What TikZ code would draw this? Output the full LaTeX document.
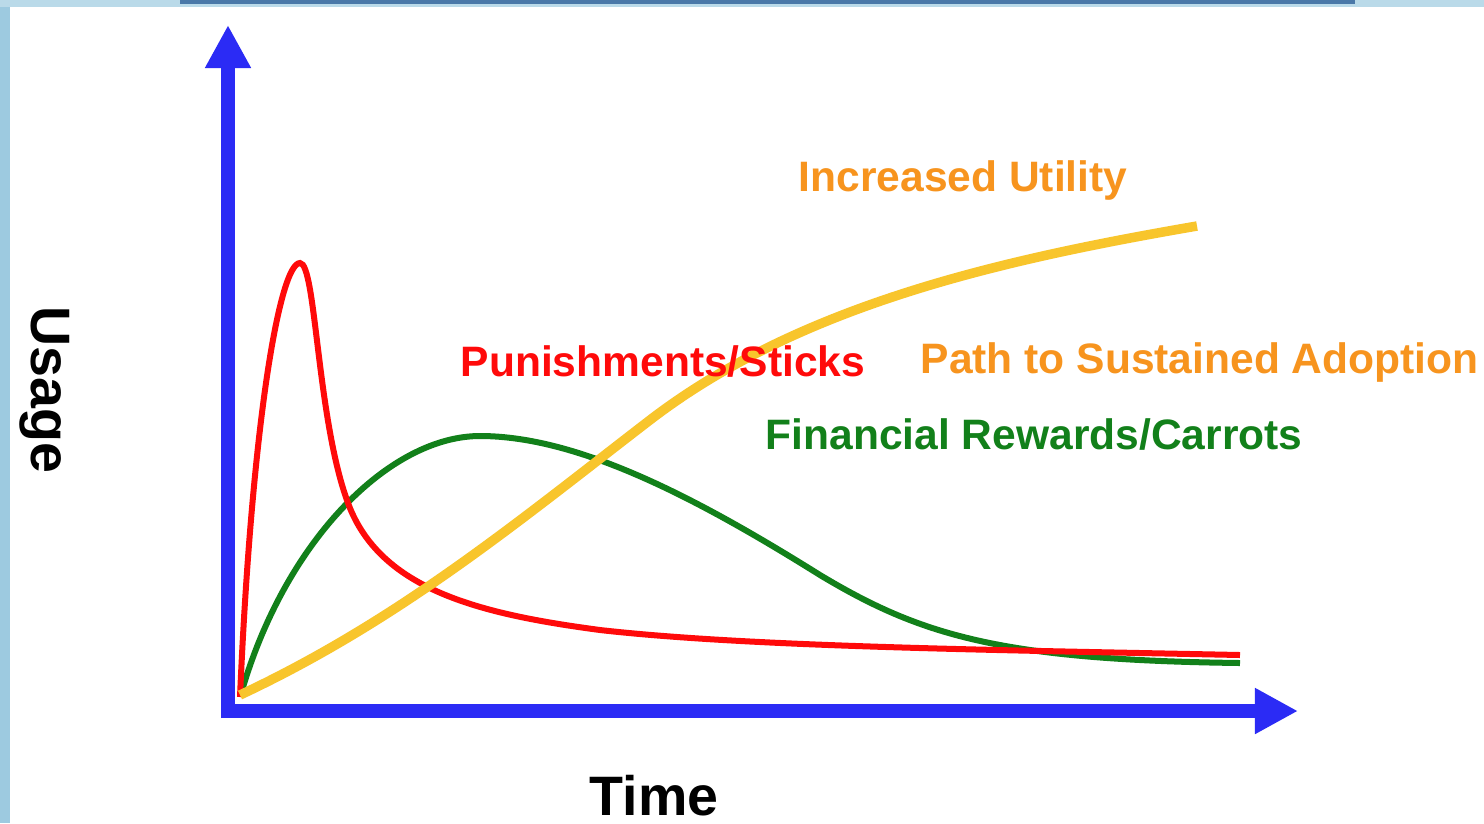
\documentclass[tikz,border=0pt]{standalone}
\usepackage{fontspec}
\setmainfont{Liberation Sans}
\usetikzlibrary{arrows.meta}
\definecolor{axisblue}{HTML}{2B2BF5}
\definecolor{sticksred}{HTML}{FF0A0A}
\definecolor{carrotgreen}{HTML}{12801A}
\definecolor{utilyellow}{HTML}{F8C52C}
\definecolor{labelorange}{HTML}{F7941E}
\definecolor{framelight}{HTML}{9DCAE0}
\definecolor{framedark}{HTML}{4A78A8}
\tikzset{
    axis/.style={line width=0.14cm, color=axisblue},
    axistip/.style={-{Triangle[length=0.43cm, width=0.43cm]}},
    curvelbl/.style={font=\fontsize{12.1}{14}\selectfont\bfseries, inner sep=0pt, anchor=west},
    axislbl/.style={font=\fontsize{15.8}{18}\selectfont\bfseries, inner sep=0pt},
}

\begin{document}
\begin{tikzpicture}[x=0.01cm, y=-0.01cm]
            \useasboundingbox (0,0) rectangle (1484,823);
            \fill[white] (0,0) rectangle (1484,823);
            \fill[framelight] (0,0) rectangle (10,823);
            \fill[framelight!70] (0,0) rectangle (1484,7);
            \fill[framedark] (180,0) rectangle (1355,4);

            \coordinate (ybase) at (228,718);
            \coordinate (ytop) at (228,25);
            \coordinate (xbase) at (221,711);
            \coordinate (xtip) at (1298,711);
            \draw[axis, axistip] (ybase) -- (ytop);
            \draw[axis, axistip] (xbase) -- (xtip);

            \draw[carrotgreen, line width=0.06cm] (241,694) .. controls (285,540) and (390,436) .. (480,436)
                .. controls (580,436) and (700,500) .. (820,575)
                .. controls (920,635) and (1000,660) .. (1240,663);
            \draw[sticksred, line width=0.06cm] (240,697) .. controls (252,420) and (280,263) .. (300,263)
                .. controls (316,263) and (317,420) .. (348,503)
                .. controls (380,590) and (480,614) .. (600,630)
                .. controls (750,647) and (1000,650) .. (1240,655);
            \draw[utilyellow, line width=0.095cm] (240,695) .. controls (400,620) and (520,520) .. (650,420)
                .. controls (800,305) and (1000,260) .. (1197,226);

            \node[curvelbl, labelorange] (utility) at (798,180) {Increased Utility};
            \node[curvelbl, sticksred] (sticks) at (460,361) {Punishments/Sticks};
            \node[curvelbl, labelorange] (adoption) at (920,362) {Path to Sustained Adoption};
            \node[curvelbl, carrotgreen] (carrots) at (765,434) {Financial Rewards/Carrots};
            \node[axislbl, rotate=-90] (usage) at (45,390) {Usage};
            \node[axislbl] (time) at (654,796) {Time};
        \end{tikzpicture}
\end{document}
